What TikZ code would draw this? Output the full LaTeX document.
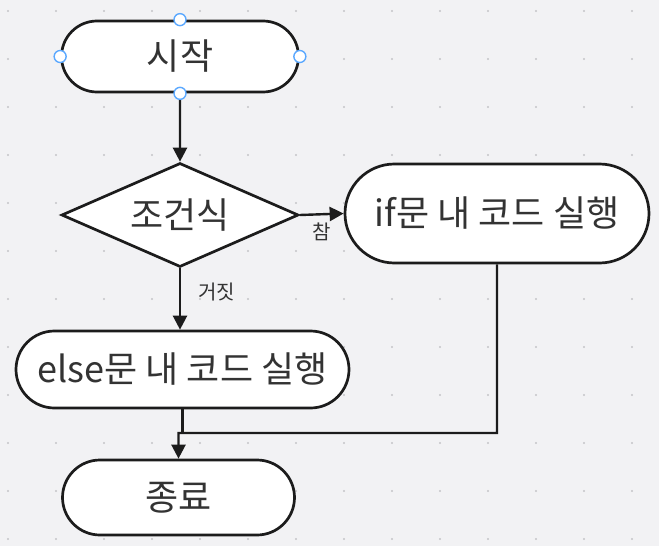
\documentclass[tikz,border=0pt]{standalone}
\usepackage{fontspec}
\newfontfamily\kr{Noto Sans CJK KR}
\usetikzlibrary{shapes,arrows.meta}
\definecolor{bgc}{HTML}{F2F2F4}
\definecolor{dotc}{HTML}{C4C4C8}
\definecolor{handlec}{HTML}{5AA8FF}
\definecolor{linec}{HTML}{1C1C1C}
\begin{document}
\begin{tikzpicture}[x=1pt,y=-1pt,
  term/.style={draw=linec, line width=2.7pt, fill=white, rounded rectangle, inner sep=0pt, text=black!80, font=\kr\fontsize{36}{40}\selectfont},
  cond/.style={draw=linec, line width=2.7pt, fill=white, diamond, aspect=2.3, inner sep=0pt, text=black!80, font=\kr\fontsize{36}{40}\selectfont},
  flow/.style={draw=linec, line width=2.4pt, -{Triangle[length=14pt,width=14pt]}},
  lbl/.style={text=black!80, font=\kr\fontsize{20}{24}\selectfont},
  handle/.style={circle, draw=handlec, fill=white, line width=1.4pt, minimum size=12pt, inner sep=0pt}]
\fill[bgc] (0,0) rectangle (659,546);
\foreach \i in {0,...,13} \foreach \j in {0,...,11} \fill[dotc] (8+48*\i,11+48*\j) circle (1.2pt);
\node[term, minimum width=237pt, minimum height=71pt] (start) at (180,56.5) {시작};
\node[cond, minimum width=237pt, minimum height=104pt] (cond) at (180,215) {조건식};
\node[term, minimum width=304pt, minimum height=99pt] (ifrun) at (497,213.5) {if문 내 코드 실행};
\node[term, minimum width=333pt, minimum height=77pt] (elserun) at (182.5,369.5) {else문 내 코드 실행};
\node[term, minimum width=232pt, minimum height=75pt] (end) at (178.5,497.5) {종료};
\coordinate (join) at (178.5,433);
\draw[flow] (start) -- (cond);
\draw[flow] (cond.east) -- (ifrun.west) node[lbl, midway, below=4pt] {참};
\draw[flow] (cond.south) -- (cond.south |- elserun.north) node[lbl, pos=0.38, right=14pt] {거짓};
\draw[draw=linec, line width=2.4pt] (elserun.south) -- (elserun.south |- join);
\draw[flow] (ifrun.south) |- (join) -- (end);
\foreach \a in {north,south,east,west} \node[handle] (h-\a) at (start.\a) {};
\end{tikzpicture}
\end{document}
